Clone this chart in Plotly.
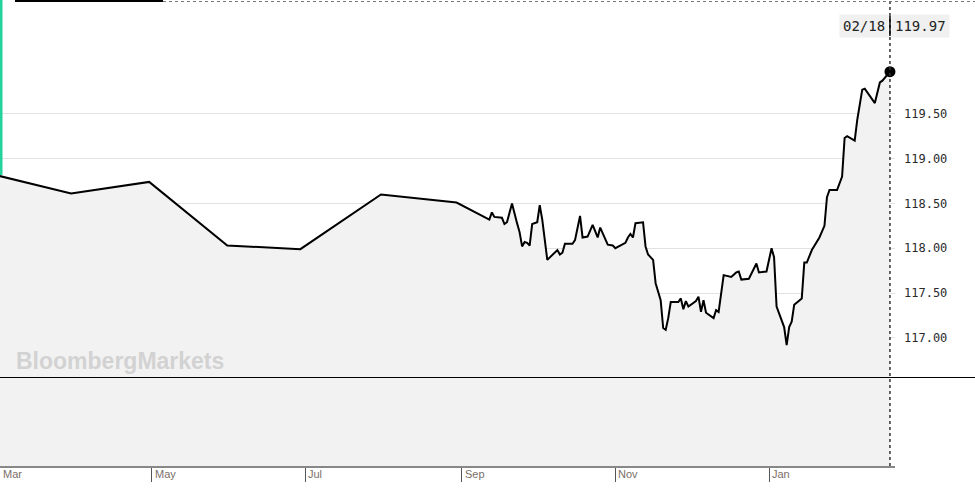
import plotly.graph_objects as go

dates = [
    "2019-03-01", "2019-03-30", "2019-04-30", "2019-05-31", "2019-06-29", "2019-07-31", "2019-08-30",
    "2019-09-12", "2019-09-13", "2019-09-14", "2019-09-17", "2019-09-18", "2019-09-19", "2019-09-21",
    "2019-09-23", "2019-09-24", "2019-09-25", "2019-09-26", "2019-09-27", "2019-09-28", "2019-09-29",
    "2019-10-01", "2019-10-02", "2019-10-03", "2019-10-05", "2019-10-09", "2019-10-10", "2019-10-11",
    "2019-10-12", "2019-10-15", "2019-10-16", "2019-10-18", "2019-10-19", "2019-10-21", "2019-10-23",
    "2019-10-25", "2019-10-26", "2019-10-29", "2019-10-31", "2019-11-01", "2019-11-05", "2019-11-06",
    "2019-11-07", "2019-11-08", "2019-11-09", "2019-11-12", "2019-11-13", "2019-11-14", "2019-11-16",
    "2019-11-17", "2019-11-19", "2019-11-20", "2019-11-21", "2019-11-22", "2019-11-23", "2019-11-26",
    "2019-11-27", "2019-11-28", "2019-11-29", "2019-11-30", "2019-12-03", "2019-12-04", "2019-12-05",
    "2019-12-06", "2019-12-07", "2019-12-10", "2019-12-11", "2019-12-12", "2019-12-14", "2019-12-17",
    "2019-12-19", "2019-12-20", "2019-12-21", "2019-12-24", "2019-12-27", "2019-12-28", "2019-12-31",
    "2020-01-02", "2020-01-03", "2020-01-04", "2020-01-07", "2020-01-08", "2020-01-09", "2020-01-10",
    "2020-01-11", "2020-01-14", "2020-01-15", "2020-01-16", "2020-01-18", "2020-01-21", "2020-01-23",
    "2020-01-24", "2020-01-25", "2020-01-28", "2020-01-30", "2020-01-31", "2020-02-01", "2020-02-04",
    "2020-02-05", "2020-02-07", "2020-02-08", "2020-02-12", "2020-02-14", "2020-02-15", "2020-02-18",
]
prices = [
    118.81, 118.61, 118.74, 118.03, 117.99, 118.60, 118.51,
    118.32, 118.40, 118.35, 118.34, 118.27, 118.29, 118.50,
    118.28, 118.18, 118.02, 118.07, 118.06, 118.03, 118.27,
    118.29, 118.48, 118.32, 117.87, 117.98, 117.93, 117.95,
    118.05, 118.05, 118.09, 118.36, 118.12, 118.13, 118.26,
    118.12, 118.23, 118.04, 118.03, 118.00, 118.06, 118.12,
    118.16, 118.12, 118.28, 118.29, 118.02, 117.93, 117.87,
    117.61, 117.42, 117.11, 117.09, 117.22, 117.40, 117.40,
    117.44, 117.32, 117.41, 117.35, 117.41, 117.46, 117.29,
    117.42, 117.28, 117.22, 117.31, 117.29, 117.70, 117.68,
    117.73, 117.74, 117.65, 117.66, 117.83, 117.73, 117.74,
    118.00, 117.90, 117.35, 117.12, 116.92, 117.12, 117.18,
    117.37, 117.44, 117.84, 117.84, 117.98, 118.12, 118.25,
    118.57, 118.65, 118.65, 118.80, 119.23, 119.25, 119.20,
    119.43, 119.77, 119.78, 119.62, 119.85, 119.87, 119.97,
]
y_ticks = [117.0, 117.5, 118.0, 118.5, 119.0, 119.5]
y_tick_labels = ["117.00", "117.50", "118.00", "118.50", "119.00", "119.50"]
month_ticks = ["2019-05-01", "2019-07-01", "2019-09-01", "2019-11-01", "2020-01-01"]
month_labels = ["Mar", "May", "Jul", "Sep", "Nov", "Jan"]
last_date_label = "02/18"
last_value_label = "119.97"

PLOT_W = 895
PLOT_H = 466

fig = go.Figure()
fig.add_trace(go.Scatter(
    x=dates, y=prices, mode="lines",
    line=dict(color="#000000", width=2),
    fill="tozeroy", fillcolor="#f2f2f2",
    hoverinfo="skip", showlegend=False,
))
fig.add_trace(go.Scatter(
    x=[dates[-1]], y=[prices[-1]], mode="markers",
    marker=dict(color="#000000", size=11),
    cliponaxis=False, hoverinfo="skip", showlegend=False,
))

shapes = [
    dict(type="line", xref="paper", yref="paper", x0=0, x1=975 / PLOT_W,
         y0=(PLOT_H - 377.5) / PLOT_H, y1=(PLOT_H - 377.5) / PLOT_H,
         line=dict(color="#000000", width=1)),
    dict(type="line", xref="x", yref="paper", x0=dates[-1], x1=dates[-1], y0=0, y1=1,
         line=dict(color="#333333", width=1.5, dash="dot")),
    dict(type="line", xref="paper", yref="paper", x0=15 / PLOT_W, x1=163 / PLOT_W,
         y0=1 - 1 / PLOT_H, y1=1 - 1 / PLOT_H, line=dict(color="#000000", width=2)),
    dict(type="line", xref="paper", yref="paper", x0=163 / PLOT_W, x1=975 / PLOT_W,
         y0=1 - 1.5 / PLOT_H, y1=1 - 1.5 / PLOT_H, line=dict(color="#777777", width=1, dash="dot")),
    dict(type="rect", xref="paper", yref="paper", x0=0, x1=2.5 / PLOT_W,
         y0=1 - 175 / PLOT_H, y1=1, line=dict(width=0), fillcolor="#22d39b"),
    dict(type="line", xref="x", yref="paper", x0=dates[-1], x1=dates[-1],
         y0=(PLOT_H - 36) / PLOT_H, y1=(PLOT_H - 16) / PLOT_H,
         line=dict(color="#000000", width=1.5)),
]

annotations = [
    dict(text="BloombergMarkets", xref="paper", yref="paper", x=14 / PLOT_W,
         y=(PLOT_H - 361) / PLOT_H, xanchor="left", yanchor="middle", showarrow=False,
         font=dict(family="Liberation Sans", size=23, color="#d2d2d2", weight="bold")),
    dict(text=last_date_label, xref="x", yref="paper", x=dates[-1], y=(PLOT_H - 26) / PLOT_H,
         xanchor="right", yanchor="middle", xshift=-1, showarrow=False, bgcolor="#f0f0f0",
         borderpad=3, font=dict(family="DejaVu Sans Mono", size=14, color="#222222")),
    dict(text=last_value_label, xref="x", yref="paper", x=dates[-1], y=(PLOT_H - 26) / PLOT_H,
         xanchor="left", yanchor="middle", xshift=1, showarrow=False, bgcolor="#f0f0f0",
         borderpad=3, font=dict(family="DejaVu Sans Mono", size=14, color="#222222")),
]
label_positions = [None] + month_ticks
for pos, lab in zip(label_positions, month_labels):
    if pos is None:
        annotations.append(dict(text=lab, xref="paper", yref="paper", x=0, y=-8 / PLOT_H,
                                xanchor="left", yanchor="middle", xshift=1, showarrow=False,
                                font=dict(family="Liberation Sans", size=11, color="#7a7068")))
    else:
        annotations.append(dict(text=lab, xref="x", yref="paper", x=pos, y=-8 / PLOT_H,
                                xanchor="left", yanchor="middle", xshift=1, showarrow=False,
                                font=dict(family="Liberation Sans", size=11, color="#7a7068")))

fig.update_layout(
    width=975, height=488,
    margin=dict(l=0, r=975 - PLOT_W, t=0, b=488 - PLOT_H),
    paper_bgcolor="#ffffff", plot_bgcolor="#ffffff",
    shapes=shapes, annotations=annotations,
    xaxis=dict(
        type="date", range=["2019-03-01 19:00", "2020-02-20 00:00"],
        tickvals=month_ticks, showticklabels=False,
        ticks="outside", ticklen=14, tickwidth=1, tickcolor="#555555",
        showgrid=False, zeroline=False,
        showline=True, linecolor="#888888", linewidth=2,
    ),
    yaxis=dict(
        range=[115.57, 120.77], side="right",
        tickvals=y_ticks, ticktext=y_tick_labels,
        tickfont=dict(family="DejaVu Sans Mono", size=12, color="#2a2a2a"),
        ticks="", ticklabelstandoff=8,
        showgrid=True, gridcolor="#e2e2e2", gridwidth=1,
        zeroline=False, showline=False,
    ),
)

fig.write_html(
    "out.html",
    config={"displayModeBar": False},
    post_script="document.body.style.margin='0';document.body.style.overflow='hidden';",
)
